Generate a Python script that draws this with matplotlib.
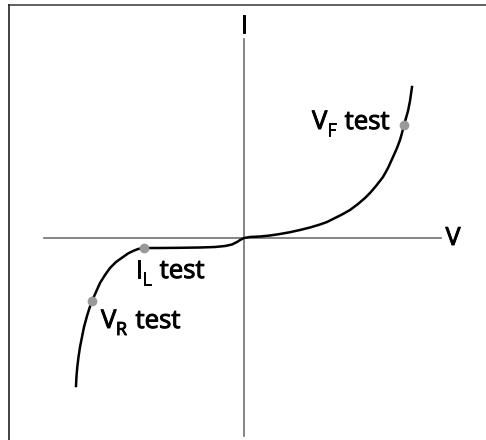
import matplotlib
matplotlib.use("Agg")
import matplotlib.pyplot as plt
import matplotlib.patheffects as pe
from matplotlib.lines import Line2D
from matplotlib.transforms import offset_copy

plt.rcParams["font.family"] = ["Open Sans", "DejaVu Sans"]

# I-V curve (arbitrary units, origin at the axes crossing)
volts = [-16.8, -16.75, -16.67, -16.55, -16.4, -16.2, -16.0, -15.7, -15.45, -15.2,
         -14.8, -14.4, -13.9, -13.4, -12.8, -12.1, -11.6, -11.1, -10.6, -10.0,
         -8.4, -6.4, -4.4, -2.9, -1.9, -1.2, -0.7, -0.3, 0.0,
         0.6, 1.6, 2.6, 3.6, 4.6, 5.6, 6.6, 7.6, 8.3, 9.1, 9.8, 10.6, 11.4, 12.1,
         12.6, 13.2, 13.9, 14.4, 14.9, 15.3, 15.6, 15.8, 16.0, 16.2, 16.4, 16.6,
         16.7, 16.8]
amps = [-14.8, -13.8, -12.9, -11.9, -10.9, -9.9, -8.9, -7.8, -7.0, -6.3,
        -5.4, -4.5, -3.7, -3.0, -2.4, -1.9, -1.55, -1.3, -1.1, -1.0,
        -1.0, -0.98, -0.95, -0.9, -0.8, -0.65, -0.4, -0.15, 0.0,
        0.1, 0.15, 0.25, 0.4, 0.58, 0.8, 1.05, 1.35, 1.6, 2.0, 2.35, 2.8, 3.4, 4.0,
        4.5, 5.2, 6.1, 7.0, 8.1, 9.0, 9.8, 10.5, 11.3, 12.0, 12.7, 13.7,
        14.4, 15.1]

# test points and their labels (symbol, subscript)
test_v = [-15.2, -10.0, 16.0]
test_i = [-6.3, -1.0, 11.3]
test_symbols = [("V", "R"), ("I", "L"), ("V", "F")]
label_pos = [(-14.3, -9.0), (-10.9, -4.0), (6.8, 10.9)]

fig = plt.figure(figsize=(4.86, 4.40), dpi=100)
ax = fig.add_axes([0, 0, 1, 1])
ax.set_xlim(-24.4, 24.2)
ax.set_ylim(-20.2, 23.8)
ax.axis("off")

# slightly heavier glyphs, like the original
bold = [pe.withStroke(linewidth=0.7, foreground="black")]

# frame (only top and left edges visible)
fig.add_artist(Line2D([8.5 / 486, 1], [1 - 5.5 / 440] * 2, transform=fig.transFigure,
                      color="#555555", lw=1.3))
fig.add_artist(Line2D([8.5 / 486] * 2, [0, 1 - 5 / 440], transform=fig.transFigure,
                      color="#222222", lw=1.2))

# axes
ax.plot([0, 0], [-19.8, 19.9], color="#707070", lw=1.2)
ax.plot([-20.0, 19.7], [0, 0], color="#707070", lw=1.2)
ax.text(0, 20.5, "I", ha="center", va="baseline", fontsize=18, path_effects=bold)
ax.text(20.9, -0.7, "V", ha="center", va="baseline", fontsize=18, path_effects=bold)

ax.plot(volts, amps, color="black", lw=1.8, solid_joinstyle="round")
ax.plot(test_v, test_i, "o", color="#999999", ms=6, zorder=3)

# labels built from pieces so the subscript can sit lower and larger
renderer = fig.canvas.get_renderer()
for (sym, sub), (x, y) in zip(test_symbols, label_pos):
    t1 = ax.text(x, y, sym, ha="left", va="baseline", fontsize=18.5, path_effects=bold)
    w1 = t1.get_window_extent(renderer).width
    t2 = ax.text(x, y, sub, ha="left", va="baseline", fontsize=13, path_effects=bold,
                 transform=offset_copy(ax.transData, fig, x=w1 - 0.5, y=-7, units="dots"))
    w2 = t2.get_window_extent(renderer).width
    ax.text(x, y, "test", ha="left", va="baseline", fontsize=18.5, path_effects=bold,
            transform=offset_copy(ax.transData, fig, x=w1 + w2 + 8, y=0, units="dots"))

fig.savefig("out.png", dpi=100)
